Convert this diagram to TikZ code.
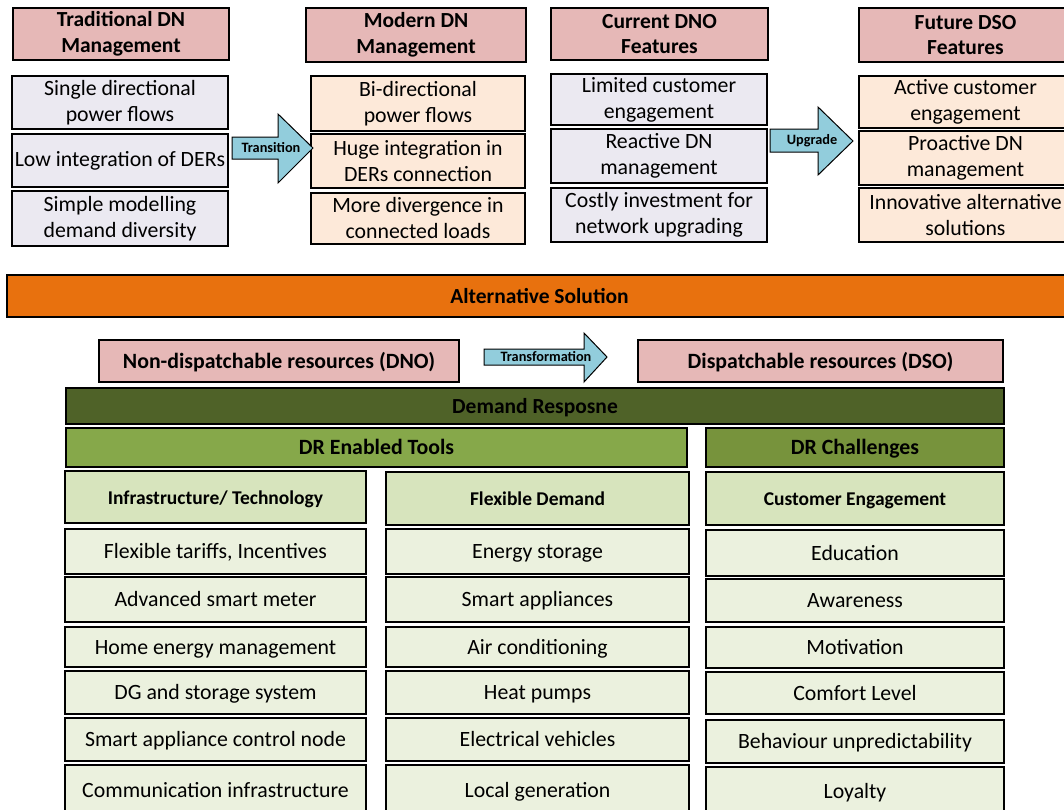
\documentclass[tikz,border=0pt]{standalone}
\usepackage{fontspec}
\setmainfont{Carlito}
\definecolor{hdrpink}{HTML}{E6B8B7}
\definecolor{lav}{HTML}{EBE9F1}
\definecolor{peach}{HTML}{FDE9D9}
\definecolor{arrowblue}{HTML}{92CDDC}
\definecolor{altorange}{HTML}{E8710E}
\definecolor{drdark}{HTML}{4F6228}
\definecolor{drtools}{HTML}{86A84A}
\definecolor{drchal}{HTML}{77933C}
\definecolor{subhdr}{HTML}{D7E4BD}
\definecolor{rowgreen}{HTML}{EBF1DE}
\tikzset{
  box/.style={draw=black, line width=1.3pt, inner sep=0pt, outer sep=0pt, align=center, text=black},
  oneline/.style={text height=18pt, text depth=4pt},
  hdrbox/.style={box, fill=hdrpink, font=\bfseries\fontsize{21.5}{25.5}\selectfont},
  lavbox/.style={box, fill=lav, font=\fontsize{21.8}{26}\selectfont},
  peachbox/.style={box, fill=peach, font=\fontsize{21.8}{26}\selectfont},
  altbox/.style={box, oneline, fill=altorange, font=\bfseries\fontsize{21.5}{24}\selectfont},
  resbox/.style={box, oneline, fill=hdrpink, font=\bfseries\fontsize{21.8}{24}\selectfont},
  drbox/.style={box, oneline, fill=drdark, font=\bfseries\fontsize{21.5}{24}\selectfont},
  toolbox/.style={box, oneline, fill=drtools, font=\bfseries\fontsize{21.8}{24}\selectfont},
  chalbox/.style={box, oneline, fill=drchal, font=\bfseries\fontsize{21.8}{24}\selectfont},
  subbox/.style={box, fill=subhdr, text height=17pt, text depth=3pt, font=\bfseries\fontsize{19.5}{22}\selectfont},
  rowbox/.style={box, oneline, fill=rowgreen, font=\fontsize{21.8}{24}\selectfont},
  blockarrow/.style={draw=black, line width=1pt, fill=arrowblue, line join=miter},
  arrowlbl/.style={font=\bfseries\fontsize{14.3}{16}\selectfont, inner sep=0pt}
}
\newcommand\bx[7]{\node[#6, minimum width={(#4-#2)*1pt}, minimum height={(#5-#3)*1pt}] (#1) at ({(#2+#4)/2},{(#3+#5)/2}) {#7};}
\begin{document}
\begin{tikzpicture}[x=1pt,y=-1pt]
\clip (0,0) rectangle (1064,809);
\fill[white] (0,0) rectangle (1064,809);
% top columns
\bx{trad}{13}{8}{229}{60}{hdrbox}{Traditional DN\\Management}
\bx{t1}{12}{76}{228}{129}{lavbox}{Single directional\\power flows}
\bx{t2}{12}{134}{228}{187}{lavbox}{Low integration of DERs}
\bx{t3}{12}{191}{228}{246}{lavbox}{Simple modelling\\demand diversity}

\bx{mod}{306}{8}{526}{62}{hdrbox}{Modern DN\\Management}
\bx{m1}{311}{76}{525}{131}{peachbox}{Bi-directional\\power flows}
\bx{m2}{311}{134}{525}{188}{peachbox}{Huge integration in\\DERs connection}
\bx{m3}{311}{193}{525}{244}{peachbox}{More divergence in\\connected loads}

\bx{cur}{551}{8}{768}{60}{hdrbox}{Current DNO\\Features}
\bx{c1}{551}{74}{767}{125}{lavbox}{Limited customer\\engagement}
\bx{c2}{551}{129}{767}{183}{lavbox}{Reactive DN\\management}
\bx{c3}{551}{188}{767}{242}{lavbox}{Costly investment for\\network upgrading}

\bx{fut}{859}{8}{1072}{62}{hdrbox}{Future DSO\\Features}
\bx{f1}{859}{76}{1072}{128}{peachbox}{Active customer\\engagement}
\bx{f2}{859}{131}{1072}{185}{peachbox}{Proactive DN\\management}
\bx{f3}{859}{188}{1072}{242}{peachbox}{Innovative alternative\\solutions}

% block arrows
\draw[blockarrow] (232,137) -- (278,137) -- (278,114) -- (313,148) -- (278,183) -- (278,159) -- (232,159) -- cycle;
\node[arrowlbl] (trans) at (271,148) {Transition};
\draw[blockarrow] (770,129) -- (818,129) -- (818,107) -- (853,141) -- (818,175) -- (818,152) -- (770,152) -- cycle;
\node[arrowlbl] (upg) at (812,141) {Upgrade};
\draw[blockarrow] (484,349) -- (584,349) -- (584,333) -- (607,357) -- (584,382) -- (584,365) -- (484,365) -- cycle;
\node[arrowlbl] (transf) at (546,357) {Transformation};

% middle bars
\bx{alt}{7}{275}{1072}{317}{altbox}{Alternative Solution}
\bx{nondisp}{99}{340}{459}{382}{resbox}{Non-dispatchable resources (DNO)}
\bx{disp}{638}{340}{1003}{382}{resbox}{Dispatchable resources (DSO)}
\bx{dr}{66}{388}{1004}{424}{drbox}{Demand Resposne}
\bx{drtools}{66}{428}{687}{467}{toolbox}{DR Enabled Tools}
\bx{drchal}{706}{428}{1004}{467}{chalbox}{DR Challenges}

% sub headers
\bx{infra}{65}{471}{366}{523}{subbox}{Infrastructure/ Technology}
\bx{flex}{386}{472}{689}{525}{subbox}{Flexible Demand}
\bx{cust}{706}{472}{1004}{525}{subbox}{Customer Engagement}

% rows column 1
\bx{i1}{65}{529}{366}{574}{rowbox}{Flexible tariffs, Incentives}
\bx{i2}{65}{577}{366}{622}{rowbox}{Advanced smart meter}
\bx{i3}{65}{627}{366}{667}{rowbox}{Home energy management}
\bx{i4}{65}{671}{366}{714}{rowbox}{DG and storage system}
\bx{i5}{65}{718}{366}{761}{rowbox}{Smart appliance control node}
\bx{i6}{65}{765}{366}{815}{rowbox}{Communication infrastructure}
% rows column 2
\bx{d1}{386}{529}{689}{574}{rowbox}{Energy storage}
\bx{d2}{386}{577}{689}{622}{rowbox}{Smart appliances}
\bx{d3}{386}{627}{689}{667}{rowbox}{Air conditioning}
\bx{d4}{386}{671}{689}{714}{rowbox}{Heat pumps}
\bx{d5}{386}{718}{689}{761}{rowbox}{Electrical vehicles}
\bx{d6}{386}{765}{689}{815}{rowbox}{Local generation}
% rows column 3
\bx{e1}{706}{530}{1004}{576}{rowbox}{Education}
\bx{e2}{706}{579}{1004}{622}{rowbox}{Awareness}
\bx{e3}{706}{627}{1004}{668}{rowbox}{Motivation}
\bx{e4}{706}{672}{1004}{714}{rowbox}{Comfort Level}
\bx{e5}{706}{720}{1004}{763}{rowbox}{Behaviour unpredictability}
\bx{e6}{706}{767}{1004}{815}{rowbox}{Loyalty}
\end{tikzpicture}
\end{document}
